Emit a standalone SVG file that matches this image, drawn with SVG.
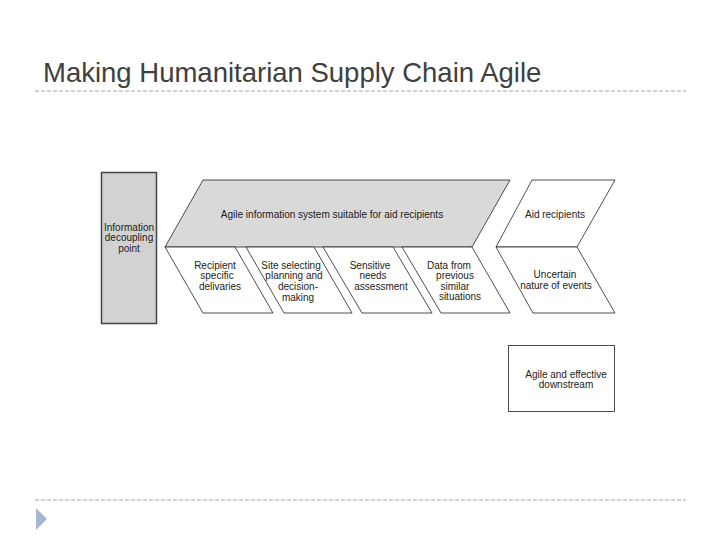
<svg xmlns="http://www.w3.org/2000/svg" width="720" height="540" viewBox="0 0 720 540">
<style>
.t{font-family:"Liberation Sans",Arial,sans-serif;font-size:10px;fill:#222;text-anchor:middle}
.s{fill:#fff;stroke:#222;stroke-width:0.8}
.g{fill:#d9d9d9;stroke:#222;stroke-width:0.8}
.dash{stroke:#a6a6a6;stroke-width:1;stroke-dasharray:4,2}
</style>
<rect width="720" height="540" fill="#fff"/>
<text x="43" y="82" font-family="'Liberation Sans',Arial,sans-serif" font-size="27.5" fill="#404040">Making Humanitarian Supply Chain Agile</text>
<line class="dash" x1="35" y1="91" x2="686" y2="91"/>
<line class="dash" x1="35" y1="500" x2="686" y2="500"/>
<polygon points="36,508 47,519 36,530" fill="#a3b7d0"/>

<g id="decoupling">
<rect x="101.5" y="172.5" width="55" height="151" fill="#d2d2d2" stroke="#444" stroke-width="1.5"/>
<text class="t" x="129" y="231">Information</text>
<text class="t" x="129" y="241">decoupling</text>
<text class="t" x="129" y="252">point</text>
</g>
<g id="agile-info">
<polygon class="g" points="203,180 510,180 472,247 165,247"/>
<text class="t" x="332" y="218">Agile information system suitable for aid recipients</text>
</g>
<g id="aid-recipients">
<polygon class="s" points="532,180 615,180 577,247 496,247"/>
<text class="t" x="555" y="218">Aid recipients</text>
</g>
<g id="recipient-deliveries">
<polygon class="s" points="165,247 235,247 273,313 203,313"/>
<text class="t" x="215" y="269">Recipient</text>
<text class="t" x="217" y="279">specific</text>
<text class="t" x="220" y="290">delivaries</text>
</g>
<g id="site-selecting">
<polygon class="s" points="246,247 314,247 352,313 284,313"/>
<text class="t" x="291" y="269">Site selecting</text>
<text class="t" x="294" y="279">planning and</text>
<text class="t" x="298" y="290">decision-</text>
<text class="t" x="298" y="301">making</text>
</g>
<g id="sensitive-needs">
<polygon class="s" points="323,247 393,247 432,313 362,313"/>
<text class="t" x="370" y="269">Sensitive</text>
<text class="t" x="373" y="279">needs</text>
<text class="t" x="381" y="290">assessment</text>
</g>
<g id="data-previous">
<polygon class="s" points="402,247 472,247 510,313 441,313"/>
<text class="t" x="449" y="269">Data from</text>
<text class="t" x="455" y="279">previous</text>
<text class="t" x="455" y="290">similar</text>
<text class="t" x="460" y="300">situations</text>
</g>
<g id="uncertain">
<polygon class="s" points="496,247 577,247 615,313 533,313"/>
<text class="t" x="555" y="278">Uncertain</text>
<text class="t" x="556" y="289">nature of events</text>
</g>
<g id="downstream">
<rect x="508.5" y="345.5" width="106" height="66" class="s"/>
<text class="t" x="566" y="378">Agile and effective</text>
<text class="t" x="566" y="388">downstream</text>
</g>
<g id="connectors"></g>
</svg>
